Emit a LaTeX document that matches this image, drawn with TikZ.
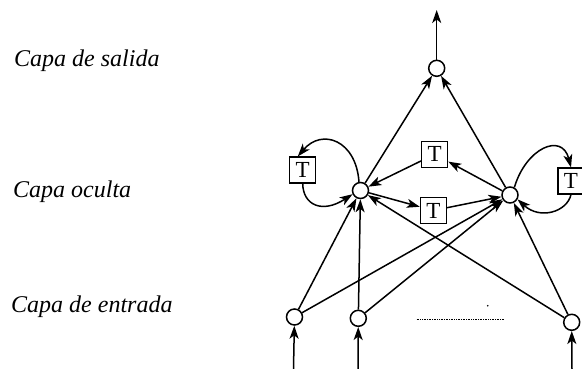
\documentclass[tikz,border=0pt]{standalone}
\usepackage{fontspec}
\setmainfont{Liberation Serif}
\usetikzlibrary{arrows.meta}
\begin{document}
\begin{tikzpicture}[x=1pt,y=-1pt,
  neuron/.style={circle,draw,line width=1.5pt,minimum size=16pt,inner sep=0pt,fill=white},
  tbox/.style={draw,line width=1.1pt,minimum size=26pt,inner sep=0pt,fill=white,font=\fontsize{23}{25}\selectfont},
  lbl/.style={anchor=base west,inner sep=0pt,font=\fontsize{24}{27}\selectfont\itshape},
  arr/.style={line width=1.5pt,-{Stealth[length=13pt,width=9pt,inset=3.5pt]}}]
\clip (0,0) rectangle (582,369);
% labels
\node[lbl] (ls) at (14,67) {Capa de salida};
\node[lbl] (lo) at (13,197) {Capa oculta};
\node[lbl] (le) at (11,312) {Capa de entrada};
% neurons
\node[neuron] (out) at (436.7,68.3) {};
\node[neuron] (h1) at (360.5,190.5) {};
\node[neuron] (h2) at (510,195) {};
\node[neuron] (i1) at (294.5,317) {};
\node[neuron] (i2) at (358.3,318.3) {};
\node[neuron] (i3) at (571.7,322.3) {};
% delay boxes
\node[tbox] (t1) at (302.7,170) {T};
\node[tbox] (t2) at (434.7,154.3) {T};
\node[tbox] (t3) at (433.3,210.5) {T};
\node[tbox] (t4) at (571,181) {T};
% free ends
\coordinate (top) at (436.7,10);
\coordinate (b1) at (293.5,369);
\coordinate (b2) at (358,369);
\coordinate (b3) at (572,369);
% output
\draw[arr] (out) -- (top);
\draw[arr] (h1) -- (out);
\draw[arr] (h2) -- (out);
% inputs
\draw[arr] (b1) -- (i1);
\draw[arr] (b2) -- (i2);
\draw[arr] (b3) -- (i3);
\draw[arr] (i1) -- (h1);
\draw[arr] (i1) -- (h2);
\draw[arr] (i2) -- (h1);
\draw[arr] (i2) -- (h2);
\draw[arr] (i3) -- (h1);
\draw[arr] (i3) -- (h2);
% lateral connections through delays
\draw[arr] (h2) -- (t2);
\draw[arr] (t2) -- (h1);
\draw[arr] (h1) -- (t3);
\draw[arr] (t3) -- (h2);
% self loops
\draw[arr] (h1.100) .. controls (356,140) and (322,128) .. (t1.110);
\draw[arr] (t1.south) .. controls (303,205) and (322,214) .. (h1.205);
\draw[arr] (h2.60) .. controls (526,148) and (562,132) .. (t4.north);
\draw[arr] (t4.south) .. controls (567,212) and (540,220) .. (h2.-30);
% ellipsis for further inputs
\draw[line width=0.7pt,dash pattern=on 0.7pt off 1pt] (416.7,319.3) -- (505,319.3);
\fill (487.7,305.7) circle (0.9pt);
\end{tikzpicture}
\end{document}
